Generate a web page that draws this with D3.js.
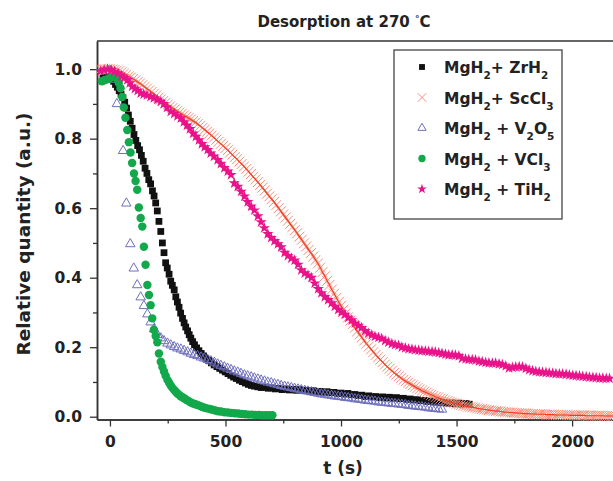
<!DOCTYPE html>
<html>
<head>
<meta charset="utf-8">
<script src="https://cdnjs.cloudflare.com/ajax/libs/d3/7.8.5/d3.min.js"></script>
<style>
body { margin: 0; background: #fff; }
text { font-family: "DejaVu Sans", Verdana, sans-serif; font-weight: bold; fill: #222; }
</style>
</head>
<body>
<svg id="chart"></svg>
<script>

// [t (s), relative quantity]
let zrh2 = [[-30,0.975],[-20,0.975],[-10,0.976],[0,0.976],[8,0.972],[16,0.965],[24,0.956],[32,0.948],[40,0.938],[48,0.928],[56,0.918],[64,0.905],[72,0.888],[80,0.868],[88,0.85],[96,0.83],[104,0.812],[112,0.795],[120,0.78],[128,0.768],[136,0.752],[144,0.735],[152,0.715],[160,0.7],[168,0.682],[176,0.67],[184,0.65],[191,0.635],[198,0.615],[205,0.592],[212,0.562],[220,0.533],[227,0.5],[234,0.472],[241,0.443],[248,0.428],[256,0.41],[263,0.39],[270,0.378],[278,0.365],[285,0.345],[292,0.33],[299,0.315],[306,0.298],[314,0.283],[321,0.27],[328,0.258],[336,0.247],[343,0.236],[350,0.226],[358,0.216],[366,0.207],[375,0.198],[385,0.19],[395,0.182],[405,0.175],[415,0.168],[427,0.162],[439,0.155],[451,0.149],[463,0.144],[475,0.139],[487,0.134],[499,0.129],[511,0.124],[523,0.119],[535,0.114],[547,0.11],[560,0.105],[573,0.101],[586,0.097],[599,0.093],[612,0.09],[625,0.088],[640,0.086],[655,0.084],[670,0.085],[685,0.082],[700,0.083],[715,0.08],[730,0.081],[745,0.078],[760,0.08],[775,0.077],[790,0.079],[805,0.076],[820,0.078],[835,0.075],[850,0.076],[865,0.073],[880,0.075],[895,0.072],[910,0.073],[925,0.07],[940,0.072],[955,0.069],[970,0.07],[985,0.067],[1000,0.068],[1015,0.065],[1030,0.067],[1045,0.063],[1060,0.064],[1075,0.061],[1090,0.062],[1105,0.058],[1120,0.06],[1135,0.057],[1150,0.058],[1165,0.055],[1180,0.057],[1195,0.054],[1210,0.056],[1225,0.053],[1240,0.055],[1255,0.052],[1270,0.053],[1285,0.05],[1300,0.051],[1315,0.048],[1330,0.049],[1345,0.046],[1360,0.047],[1375,0.044],[1390,0.045],[1405,0.042],[1420,0.043],[1435,0.04],[1450,0.041],[1465,0.039],[1480,0.04],[1495,0.037],[1510,0.039],[1525,0.036],[1540,0.038],[1555,0.036]]

let sccl3 = [[-40,1.0],[-30,1.0],[-20,1.0],[-10,1.0],[0,1.0],[10,0.999],[20,0.998],[30,0.996],[40,0.994],[50,0.991],[60,0.987],[70,0.983],[80,0.979],[90,0.976],[100,0.972],[110,0.968],[120,0.963],[130,0.959],[140,0.954],[150,0.949],[160,0.944],[170,0.939],[180,0.934],[190,0.929],[200,0.924],[210,0.918],[220,0.913],[230,0.908],[240,0.903],[250,0.898],[260,0.893],[270,0.888],[280,0.884],[290,0.879],[300,0.875],[310,0.871],[320,0.867],[330,0.863],[340,0.859],[350,0.855],[360,0.851],[370,0.847],[380,0.842],[390,0.837],[400,0.831],[410,0.826],[420,0.82],[430,0.815],[440,0.809],[450,0.803],[460,0.797],[470,0.791],[480,0.785],[490,0.779],[500,0.773],[510,0.767],[520,0.76],[530,0.754],[540,0.747],[550,0.741],[560,0.734],[570,0.727],[580,0.72],[590,0.713],[600,0.705],[610,0.698],[620,0.69],[630,0.683],[640,0.675],[650,0.667],[660,0.659],[670,0.651],[680,0.642],[690,0.634],[700,0.626],[710,0.618],[720,0.609],[730,0.6],[740,0.591],[750,0.582],[760,0.573],[770,0.564],[780,0.555],[790,0.546],[800,0.537],[810,0.528],[820,0.518],[830,0.509],[840,0.499],[850,0.49],[860,0.48],[870,0.471],[880,0.461],[890,0.451],[900,0.441],[910,0.429],[920,0.416],[930,0.404],[940,0.391],[950,0.379],[960,0.366],[970,0.354],[980,0.342],[990,0.33],[1000,0.319],[1010,0.308],[1020,0.297],[1030,0.286],[1040,0.276],[1050,0.266],[1060,0.256],[1070,0.246],[1080,0.237],[1090,0.228],[1100,0.219],[1110,0.21],[1120,0.202],[1130,0.194],[1140,0.186],[1150,0.178],[1160,0.171],[1170,0.164],[1180,0.157],[1190,0.15],[1200,0.144],[1210,0.138],[1220,0.132],[1230,0.126],[1240,0.121],[1250,0.116],[1260,0.111],[1270,0.106],[1280,0.102],[1290,0.098],[1300,0.094],[1310,0.09],[1320,0.086],[1330,0.082],[1340,0.079],[1350,0.075],[1360,0.072],[1370,0.069],[1380,0.066],[1390,0.063],[1400,0.06],[1410,0.057],[1420,0.055],[1430,0.052],[1440,0.05],[1450,0.047],[1460,0.045],[1470,0.043],[1480,0.041],[1490,0.039],[1500,0.037],[1510,0.035],[1520,0.034],[1530,0.032],[1540,0.031],[1550,0.029],[1560,0.028],[1570,0.027],[1580,0.026],[1590,0.024],[1600,0.023],[1610,0.022],[1620,0.021],[1630,0.02],[1640,0.019],[1650,0.018],[1660,0.017],[1670,0.016],[1680,0.016],[1690,0.015],[1700,0.014],[1710,0.013],[1720,0.013],[1730,0.012],[1740,0.012],[1750,0.011],[1760,0.011],[1770,0.01],[1780,0.01],[1790,0.009],[1800,0.009],[1810,0.009],[1820,0.008],[1830,0.008],[1840,0.008],[1850,0.007],[1860,0.007],[1870,0.007],[1880,0.007],[1890,0.006],[1900,0.006],[1910,0.006],[1920,0.006],[1930,0.005],[1940,0.005],[1950,0.005],[1960,0.005],[1970,0.005],[1980,0.005],[1990,0.004],[2000,0.004],[2010,0.004],[2020,0.004],[2030,0.004],[2040,0.004],[2050,0.004],[2060,0.003],[2070,0.003],[2080,0.003],[2090,0.003],[2100,0.003],[2110,0.003],[2120,0.003],[2130,0.003],[2140,0.002],[2150,0.002],[2160,0.002],[2170,0.002],[2180,0.002],[2190,0.002],[2200,0.002]]

let v2o5 = [[0,0.995],[15,0.97],[30,0.9],[57,0.765],[71,0.614],[88,0.497],[103,0.427],[118,0.379],[133,0.344],[147,0.319],[162,0.295],[176,0.272],[191,0.252],[205,0.236],[220,0.226],[234,0.218],[249,0.211],[263,0.206],[278,0.201],[292,0.197],[307,0.194],[321,0.19],[336,0.186],[350,0.182],[365,0.178],[379,0.175],[394,0.171],[408,0.168],[423,0.164],[437,0.16],[452,0.156],[466,0.151],[480,0.147],[495,0.143],[509,0.139],[524,0.135],[538,0.131],[553,0.128],[567,0.124],[582,0.12],[596,0.117],[611,0.114],[625,0.111],[640,0.108],[654,0.105],[669,0.102],[683,0.099],[698,0.097],[712,0.094],[727,0.092],[741,0.089],[756,0.087],[770,0.085],[785,0.083],[799,0.081],[814,0.079],[828,0.077],[843,0.075],[857,0.073],[872,0.071],[886,0.069],[901,0.067],[915,0.065],[930,0.064],[944,0.062],[959,0.061],[973,0.059],[988,0.058],[1002,0.057],[1017,0.055],[1031,0.054],[1046,0.053],[1060,0.051],[1075,0.05],[1089,0.049],[1104,0.047],[1118,0.046],[1133,0.045],[1147,0.044],[1162,0.042],[1176,0.041],[1191,0.04],[1205,0.039],[1220,0.038],[1234,0.037],[1249,0.036],[1263,0.035],[1278,0.034],[1292,0.032],[1307,0.031],[1321,0.03],[1336,0.029],[1350,0.028],[1365,0.027],[1379,0.025],[1394,0.024],[1408,0.023],[1423,0.022],[1437,0.021]]

let vcl3 = [[-35,0.965],[-25,0.968],[-15,0.97],[-5,0.972],[3,0.975],[10,0.978],[17,0.978],[24,0.976],[31,0.972],[38,0.96],[46,0.945],[53,0.92],[60,0.89],[67,0.86],[75,0.825],[82,0.79],[89,0.76],[96,0.73],[104,0.7],[111,0.678],[118,0.653],[125,0.602],[133,0.572],[140,0.547],[147,0.489],[154,0.437],[162,0.379],[169,0.35],[176,0.321],[183,0.283],[190,0.25],[198,0.232],[205,0.214],[212,0.182],[220,0.158],[227,0.143],[234,0.13],[241,0.118],[249,0.106],[256,0.098],[263,0.09],[270,0.083],[278,0.077],[285,0.072],[292,0.067],[299,0.063],[306,0.059],[314,0.056],[321,0.053],[330,0.049],[340,0.045],[350,0.041],[360,0.038],[370,0.036],[379,0.034],[390,0.031],[400,0.028],[410,0.026],[420,0.024],[432,0.022],[444,0.02],[456,0.018],[468,0.016],[480,0.015],[495,0.013],[510,0.012],[525,0.011],[540,0.01],[555,0.009],[570,0.008],[585,0.007],[600,0.006],[615,0.006],[630,0.005],[645,0.005],[660,0.004],[675,0.004],[690,0.004],[703,0.004]]

let tih2 = [[-40,0.995],[-25,0.998],[-10,1.0],[5,0.998],[20,0.993],[35,0.988],[50,0.98],[62,0.975],[75,0.969],[86,0.96],[96,0.95],[108,0.944],[120,0.938],[133,0.931],[146,0.928],[160,0.925],[176,0.921],[190,0.917],[205,0.912],[220,0.907],[233,0.9],[247,0.89],[263,0.878],[278,0.872],[292,0.865],[307,0.859],[320,0.848],[333,0.838],[346,0.828],[360,0.815],[372,0.806],[385,0.796],[398,0.785],[410,0.776],[423,0.768],[436,0.758],[450,0.749],[466,0.739],[480,0.728],[495,0.716],[510,0.706],[524,0.696],[538,0.672],[553,0.662],[568,0.648],[582,0.634],[596,0.618],[611,0.605],[625,0.594],[640,0.577],[654,0.56],[668,0.543],[683,0.526],[698,0.515],[712,0.506],[727,0.497],[741,0.488],[756,0.472],[770,0.463],[785,0.456],[799,0.45],[814,0.438],[828,0.422],[843,0.413],[857,0.407],[872,0.4],[886,0.384],[901,0.368],[915,0.356],[930,0.345],[944,0.336],[959,0.327],[973,0.317],[988,0.308],[1002,0.3],[1017,0.294],[1031,0.285],[1046,0.278],[1060,0.269],[1075,0.262],[1089,0.256],[1104,0.247],[1118,0.24],[1133,0.235],[1147,0.231],[1162,0.228],[1176,0.225],[1191,0.219],[1205,0.214],[1220,0.21],[1234,0.207],[1249,0.205],[1263,0.2],[1278,0.198],[1292,0.195],[1307,0.194],[1321,0.192],[1336,0.191],[1350,0.19],[1365,0.189],[1379,0.188],[1394,0.187],[1408,0.186],[1423,0.184],[1437,0.182],[1452,0.18],[1466,0.178],[1481,0.178],[1495,0.177],[1510,0.175],[1524,0.168],[1539,0.166],[1553,0.165],[1568,0.164],[1582,0.163],[1597,0.16],[1611,0.158],[1626,0.156],[1640,0.155],[1655,0.154],[1669,0.154],[1684,0.152],[1698,0.15],[1713,0.146],[1727,0.14],[1742,0.142],[1756,0.143],[1771,0.144],[1785,0.143],[1800,0.139],[1814,0.135],[1829,0.132],[1843,0.13],[1858,0.129],[1872,0.128],[1887,0.127],[1901,0.126],[1916,0.125],[1930,0.124],[1945,0.123],[1959,0.123],[1974,0.122],[1988,0.12],[2003,0.119],[2017,0.118],[2032,0.117],[2046,0.116],[2061,0.115],[2075,0.114],[2090,0.113],[2104,0.112],[2119,0.111],[2133,0.111],[2148,0.11],[2162,0.11]]

let legendLabels = ['MgH_2+ ZrH_2', 'MgH_2+ ScCl_3', 'MgH_2 + V_2O_5', 'MgH_2 + VCl_3', 'MgH_2 + TiH_2']

let xTicks = [0, 500, 1000, 1500, 2000]
let xMinor = [250, 750, 1250, 1750]
let yTicks = [0, 0.2, 0.4, 0.6, 0.8, 1.0]
let yMinor = [0.1, 0.3, 0.5, 0.7, 0.9]

let width = 613
let height = 481

let svg = d3.select('#chart').attr('width', width).attr('height', height)

let xScale = d3.scaleLinear().domain([-56, 2177]).range([97, 613])
let yScale = d3.scaleLinear().domain([-0.008, 1.081]).range([419.5, 41])

let axisColor = '#333'
let fontFam = '"DejaVu Sans", Verdana, sans-serif'

// axes
let drawAxes = () => {
    let xAxis = d3.axisBottom(xScale).tickValues(xTicks).tickFormat(d3.format('d')).tickSize(7).tickSizeOuter(0).tickPadding(9)
    let xAxisMinor = d3.axisBottom(xScale).tickValues(xMinor).tickFormat('').tickSize(4).tickSizeOuter(0)
    let yAxis = d3.axisLeft(yScale).tickValues(yTicks).tickFormat(d3.format('.1f')).tickSize(7).tickSizeOuter(0).tickPadding(8)
    let yAxisMinor = d3.axisLeft(yScale).tickValues(yMinor).tickFormat('').tickSize(4).tickSizeOuter(0)

    let gx = svg.append('g').attr('transform', 'translate(0,' + yScale.range()[0] + ')')
    gx.call(xAxis)
    gx.append('g').call(xAxisMinor)
    let gy = svg.append('g').attr('transform', 'translate(' + xScale.range()[0] + ',0)')
    gy.call(yAxis)
    gy.append('g').call(yAxisMinor)

    svg.selectAll('.domain').attr('stroke', axisColor).attr('stroke-width', 1.5)
    svg.selectAll('.tick line').attr('stroke', axisColor).attr('stroke-width', 1.3)
    svg.selectAll('.tick text').attr('font-size', 15.5).attr('font-family', fontFam).attr('font-weight', 'bold').attr('fill', '#222')

    // top frame line
    svg.append('line')
        .attr('x1', xScale.range()[0]).attr('x2', xScale.range()[1])
        .attr('y1', yScale.range()[1]).attr('y2', yScale.range()[1])
        .attr('stroke', axisColor).attr('stroke-width', 1.5)
}

let drawTexts = () => {
    let title = svg.append('text').attr('x', 344).attr('y', 27).attr('text-anchor', 'middle').attr('font-size', 15)
    title.append('tspan').text('Desorption at 270 ')
    title.append('tspan').attr('dy', -5).attr('font-size', 9).text('°')
    title.append('tspan').attr('dy', 5).text('C')

    svg.append('text').attr('x', 343).attr('y', 474).attr('text-anchor', 'middle').attr('font-size', 17).text('t (s)')

    svg.append('text')
        .attr('transform', 'translate(30,234) rotate(-90)')
        .attr('text-anchor', 'middle').attr('font-size', 18.5)
        .text('Relative quantity (a.u.)')
}

let series = [
    { data: zrh2, symbol: d3.symbolSquare, size: 46, fill: '#111', stroke: 'none', sw: 1 },
    { data: sccl3, symbol: d3.symbolTimes, size: 66, fill: 'none', stroke: '#f4907b', sw: 1 },
    { data: v2o5, symbol: d3.symbolTriangle2, size: 64, fill: 'none', stroke: '#6f6fbd', sw: 1 },
    { data: vcl3, symbol: d3.symbolCircle, size: 56, fill: '#12a84b', stroke: 'none', sw: 1 },
    { data: tih2, symbol: d3.symbolStar, size: 40, fill: '#e8138a', stroke: 'none', sw: 1 }
]

let drawSeries = () => {
    series.forEach((s, i) => {
        let g = svg.append('g')
        g.selectAll('path.pt')
            .data(s.data)
            .enter()
            .append('path')
            .attr('class', 'pt')
            .attr('transform', (d) => 'translate(' + xScale(d[0]) + ',' + yScale(d[1]) + ')')
            .attr('d', d3.symbol().type(s.symbol).size(s.size))
            .attr('fill', s.fill)
            .attr('stroke', s.stroke)
            .attr('stroke-width', s.sw)
        if (s.symbol === d3.symbolTimes) {
            g.append('path')
                .datum(s.data)
                .attr('fill', 'none')
                .attr('stroke', '#ee3a1e')
                .attr('stroke-width', 1.1)
                .attr('d', d3.line().x((d) => xScale(d[0])).y((d) => yScale(d[1])))
        }
    })
}

let drawLegend = () => {
    let lg = svg.append('g')
    lg.append('rect').attr('x', 394).attr('y', 50).attr('width', 168).attr('height', 169)
        .attr('fill', '#fff').attr('stroke', '#444').attr('stroke-width', 1.3)

    legendLabels.forEach((label, i) => {
        let cy = 67 + i * 30.5
        let s = series[i]
        lg.append('path')
            .attr('transform', 'translate(422,' + cy + ')')
            .attr('d', d3.symbol().type(s.symbol).size(s.size * 0.75))
            .attr('fill', s.fill).attr('stroke', s.stroke).attr('stroke-width', 1)

        let t = lg.append('text').attr('x', 444).attr('y', cy + 6).attr('font-size', 15.5).attr('xml:space', 'preserve')
        let parts = label.split(/_(\d)/)
        let shifted = false
        parts.forEach((p, j) => {
            if (p === '') return
            let sp = t.append('tspan').text(p)
            if (j % 2 === 1) {
                sp.attr('font-size', 10.5).attr('dy', 6)
                shifted = true
            } else if (shifted) {
                sp.attr('dy', -6)
                shifted = false
            }
        })
    })
}

drawAxes()
drawSeries()
drawLegend()
drawTexts()
</script>
</body>
</html>
